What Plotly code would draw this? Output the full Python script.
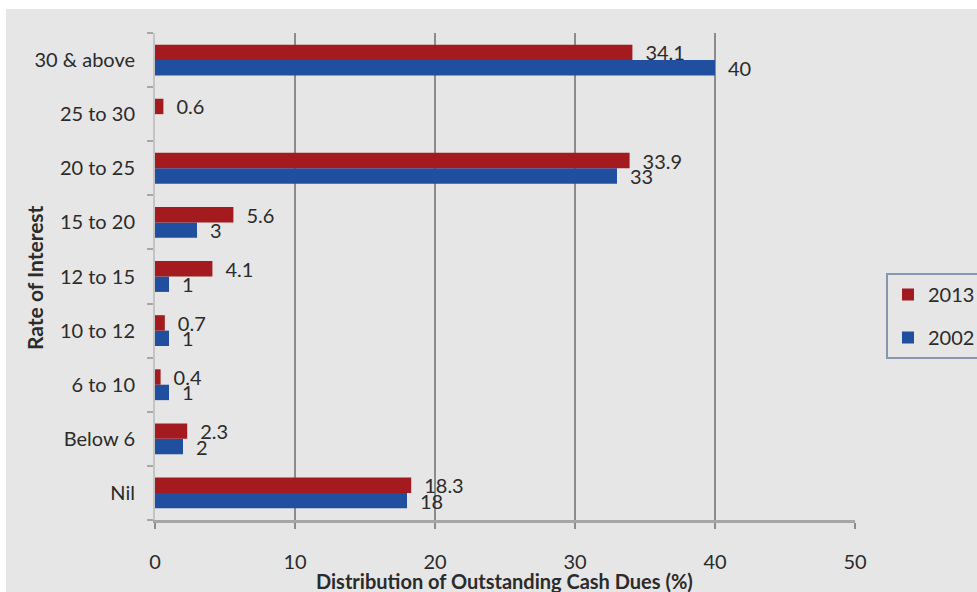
import plotly.graph_objects as go

categories = ["Nil", "Below 6", "6 to 10", "10 to 12", "12 to 15",
              "15 to 20", "20 to 25", "25 to 30", "30 & above"]
values_2013 = [18.3, 2.3, 0.4, 0.7, 4.1, 5.6, 33.9, 0.6, 34.1]
values_2002 = [18, 2, 1, 1, 1, 3, 33, None, 40]
x_ticks = [0, 10, 20, 30, 40, 50]

RED = "#a31b1f"
BLUE = "#1f4f9e"
BG = "#e6e6e6"
FONT = "Lato"
TXT = "#2b2b2b"
FS = 20

def fmt(v):
    if v is None:
        return ""
    return "\u2002" + ("%g" % v)

fig = go.Figure()
fig.add_trace(go.Bar(
    y=categories, x=values_2002, orientation="h", name="2002",
    legendgroup="g2002", legendrank=2,
    marker=dict(color=BLUE, line=dict(width=0)),
    text=[fmt(v) for v in values_2002], textposition="outside",
    constraintext="none",
    textfont=dict(family=FONT, size=FS, color=TXT), cliponaxis=False,
))
fig.add_trace(go.Bar(
    y=categories, x=values_2013, orientation="h", name="2013",
    legendgroup="g2013", legendrank=1,
    marker=dict(color=RED, line=dict(width=0)),
    text=[fmt(v) for v in values_2013], textposition="outside",
    constraintext="none",
    textfont=dict(family=FONT, size=FS, color=TXT), cliponaxis=False,
))

W, H = 977, 592
L, R, T, B = 155, 122, 33, 72
pw = W - L - R
ph = H - T - B

fig.update_layout(
    width=W, height=H,
    margin=dict(l=L, r=R, t=T, b=B, pad=0, autoexpand=False),
    paper_bgcolor=BG, plot_bgcolor=BG,
    barmode="group", bargap=0.43, bargroupgap=0,
    font=dict(family=FONT, size=FS, color=TXT),
    showlegend=True,
    legend=dict(
        x=(886 - L) / pw, y=1 - (273 - T) / ph,
        xanchor="left", yanchor="top",
        traceorder="grouped",
        bgcolor=BG, bordercolor="#8796b0", borderwidth=2,
        font=dict(family=FONT, size=20, color=TXT),
        itemwidth=30, tracegroupgap=14,
    ),
    xaxis=dict(
        range=[0, 50], tickvals=x_ticks,
        showgrid=True, gridcolor="#8c8c8c", gridwidth=2,
        zeroline=False,
        showline=True, linecolor="#a6a6a6", linewidth=3,
        ticks="outside", ticklen=6, tickcolor="#8c8c8c", tickwidth=2,
        ticklabelstandoff=16,
        tickfont=dict(family=FONT, size=FS, color=TXT),
    ),
    yaxis=dict(
        categoryorder="array", categoryarray=categories,
        showline=True, linecolor="#c4c4c4", linewidth=2,
        tickson="boundaries", ticks="outside", ticklen=6,
        tickcolor="#a6a6a6", tickwidth=2,
        ticklabelstandoff=14,
        tickfont=dict(family=FONT, size=FS, color=TXT),
        showgrid=False,
    ),
    annotations=[
        dict(text="<b>Distribution of Outstanding Cash Dues (%)</b>",
             xref="paper", yref="paper", x=(504 - L) / pw,
             y=-(581 - T - ph) / ph,
             xanchor="center", yanchor="middle", showarrow=False,
             font=dict(family=FONT, size=20, color=TXT)),
        dict(text="<b>Rate of Interest</b>", textangle=-90,
             xref="paper", yref="paper", x=-(L - 34) / pw,
             y=1 - (278 - T) / ph,
             xanchor="center", yanchor="middle", showarrow=False,
             font=dict(family=FONT, size=21, color=TXT)),
    ],
    shapes=[
        dict(type="rect", xref="paper", yref="paper", layer="below",
             x0=-L / pw, x1=(W - L) / pw,
             y0=1 + (T - 9) / ph, y1=1 + T / ph,
             fillcolor="white", line=dict(width=0)),
        dict(type="rect", xref="paper", yref="paper", layer="below",
             x0=-L / pw, x1=-(L - 6) / pw,
             y0=-B / ph, y1=1 + T / ph,
             fillcolor="white", line=dict(width=0)),
    ],
)

fig.write_html("out.html")
